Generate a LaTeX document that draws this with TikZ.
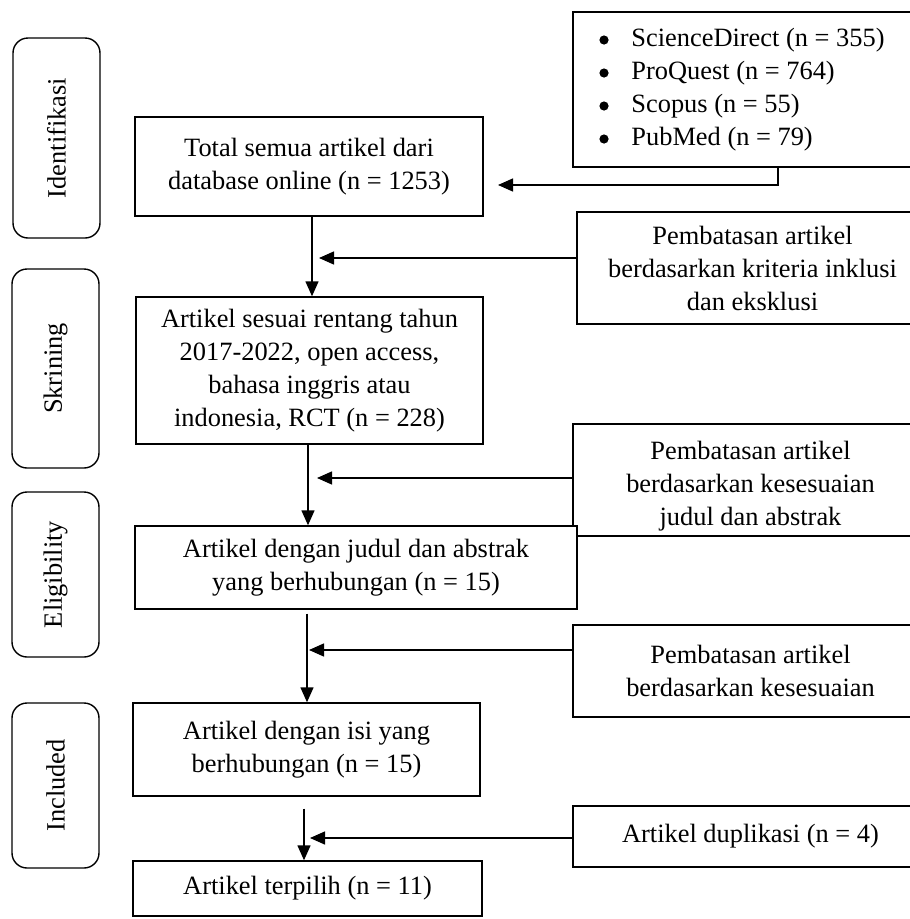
\documentclass[tikz,border=0pt]{standalone}
\usepackage{fontspec}
\setmainfont{Liberation Serif}
\usetikzlibrary{arrows.meta}
\begin{document}
\begin{tikzpicture}[x=1pt,y=-1pt,
  every node/.style={font=\fontsize{26.4pt}{33pt}\selectfont, inner sep=0pt, align=center},
  box/.style={draw, line width=1.4pt, fill=white, rectangle},
  phase/.style={draw, line width=1.4pt, rounded corners=15pt, rotate=90, minimum height=87pt},
  arr/.style={line width=1.4pt, -{Triangle[length=15pt,width=13pt]}},
  bul/.style={fill=black}]
\useasboundingbox (0,0) rectangle (910,919);
\fill[white] (0,0) rectangle (910,919);

% phase labels
\node[phase, minimum width=200pt] (id) at (56.5,138) {Identifikasi};
\node[phase, minimum width=199pt] (skr) at (55.5,368.5) {Skrining};
\node[phase, minimum width=165pt] (eli) at (55.5,574.5) {Eligibility};
\node[phase, minimum width=165pt] (inc) at (55.5,785.5) {Included};

% right side boxes
\node[box, minimum width=339pt, minimum height=155pt] (src) at (742.5,89.5)
  {\begin{tabular}{@{}l@{\hspace{22pt}}l@{}}
   \hspace{9pt} & ScienceDirect (n = 355)\\
   \hspace{9pt} & ProQuest (n = 764)\\
   \hspace{9pt} & Scopus (n = 55)\\
   \hspace{9pt} & PubMed (n = 79)
   \end{tabular}};
\foreach \yy in {40,73,106,139} \fill[bul] (604,\yy) circle (4.6pt);
\node[box, minimum width=351pt, minimum height=112pt] (krit) at (752.5,268)
  {Pembatasan artikel\\berdasarkan kriteria inklusi\\dan eksklusi};
\node[box, minimum width=355pt, minimum height=112pt] (pjud) at (750.5,480) {};
\node (pjudtext) at (750.5,486)
  {Pembatasan artikel\\berdasarkan kesesuaian\\judul dan abstrak};
\node[box, minimum width=355pt, minimum height=92pt] (pkes) at (750.5,671)
  {Pembatasan artikel\\berdasarkan kesesuaian};
\node[box, minimum width=355pt, minimum height=61pt] (dup) at (750.5,836.5)
  {Artikel duplikasi (n = 4)};

% main column
\node[box, minimum width=348pt, minimum height=99pt] (total) at (309,166.5)
  {Total semua artikel dari\\database online (n = 1253)};
\node[box, minimum width=347pt, minimum height=147pt] (ses) at (309.5,370.5)
  {Artikel sesuai rentang tahun\\2017-2022, open access,\\bahasa inggris atau\\indonesia, RCT (n = 228)};
\node[box, minimum width=442pt, minimum height=83pt] (jud) at (356,567.5)
  {Artikel dengan judul dan abstrak\\yang berhubungan (n = 15)};
\node[box, minimum width=347pt, minimum height=93pt] (isi) at (306.5,749.5)
  {Artikel dengan isi yang\\berhubungan (n = 15)};
\node[box, minimum width=349pt, minimum height=55pt] (ter) at (307.5,888.5)
  {Artikel terpilih (n = 11)};

% coordinates for connectors
\coordinate (c1) at (778,185);
\coordinate (t1) at (498,185);
\coordinate (v1) at (312,0);
\coordinate (t2) at (319,258);
\coordinate (v2) at (308,0);
\coordinate (t3) at (317,478);
\coordinate (v3) at (307,0);
\coordinate (t4) at (309,650);
\coordinate (v4) at (304,0);
\coordinate (t5) at (310,838);

% connectors
\draw[arr] (c1 |- src.south) -- (c1) -- (t1);
\draw[arr] (total.south -| v1) -- (ses.north -| v1);
\draw[arr] (krit.west |- t2) -- (t2);
\draw[arr] (ses.south -| v2) -- (jud.north -| v2);
\draw[arr] (pjud.west |- t3) -- (t3);
\draw[arr] ([yshift=-4pt]jud.south -| v3) -- (isi.north -| v3);
\draw[arr] (pkes.west |- t4) -- (t4);
\draw[arr] ([yshift=-12pt]isi.south -| v4) -- (ter.north -| v4);
\draw[arr] (dup.west |- t5) -- (t5);
\end{tikzpicture}
\end{document}
